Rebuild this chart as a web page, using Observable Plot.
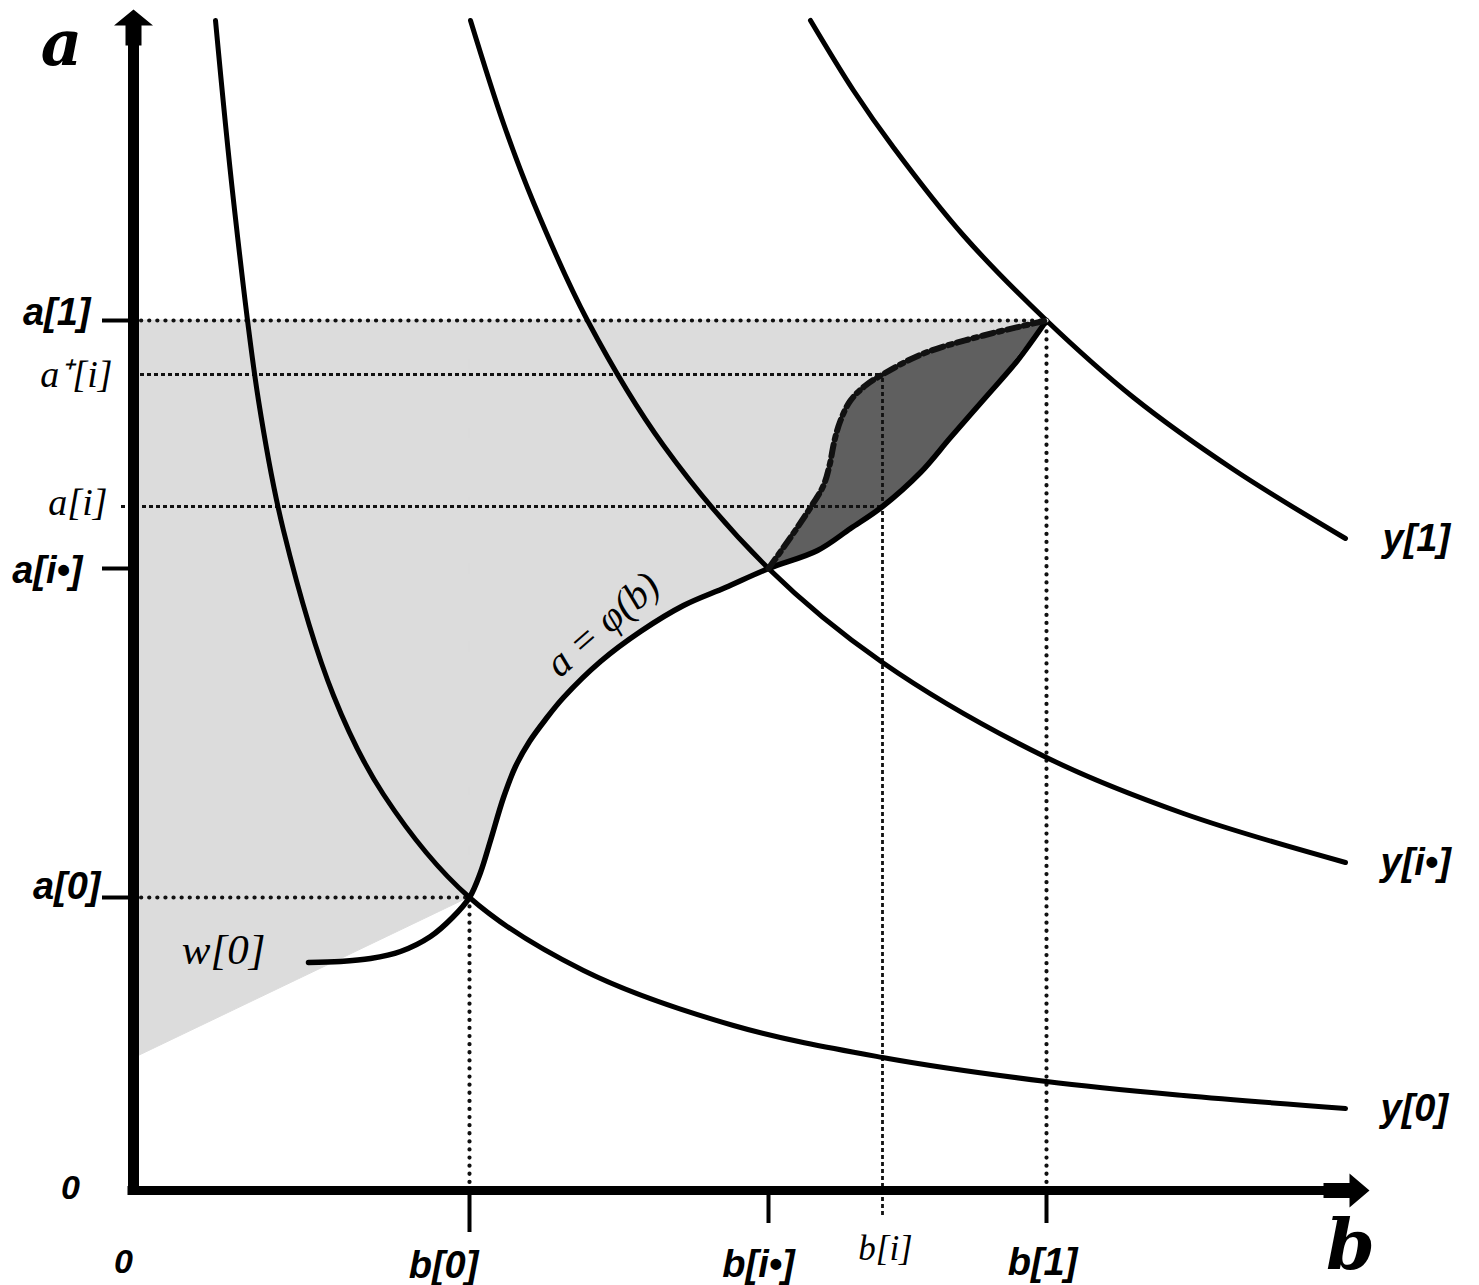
<!DOCTYPE html>
<html><head><meta charset="utf-8">
<script src="https://cdn.jsdelivr.net/npm/d3@7"></script>
<script src="https://cdn.jsdelivr.net/npm/@observablehq/plot@0.6"></script>
<style>html,body{margin:0;padding:0;background:#fff;overflow:hidden}svg{display:block}</style>
</head><body><div id="chart"></div>
<script>
// ---------- data (b = horizontal, a = vertical) ----------
// indifference curve y[0]
const y0B = [0.82, 1.0, 1.25, 1.5, 2.0, 2.5, 3.36, 4.5, 6.0, 7.49, 9.13, 10.5, 12.12];
const y0A = [11.7, 9.9, 7.9, 6.6, 4.95, 3.96, 2.93, 2.2, 1.65, 1.33, 1.09, 0.95, 0.82];
// indifference curve y[i*]
const yisB = [3.37, 3.7, 4.0, 4.54, 5.3, 6.35, 7.49, 9.13, 10.5, 12.12];
const yisA = [11.7, 10.67, 9.88, 8.7, 7.45, 6.22, 5.28, 4.33, 3.77, 3.28];
// indifference curve y[1]
const y1B = [6.77, 7.2, 7.6, 8.3, 9.13, 10.0, 11.0, 12.12];
const y1A = [11.7, 11.0, 10.43, 9.55, 8.7, 7.93, 7.21, 6.52];
// curve a = phi(b)
const phiB = [1.75, 2.07, 2.37, 2.67, 2.97, 3.19, 3.36, 3.47, 3.57, 3.70, 3.82, 3.96, 4.12, 4.30, 4.67, 5.07, 5.50, 5.92, 6.35, 6.84, 7.17, 7.49, 7.87, 8.17, 8.52, 8.84, 9.13];
const phiA = [2.28, 2.29, 2.32, 2.39, 2.54, 2.73, 2.93, 3.18, 3.50, 3.93, 4.24, 4.49, 4.71, 4.93, 5.29, 5.59, 5.85, 6.03, 6.22, 6.40, 6.62, 6.84, 7.18, 7.53, 7.93, 8.30, 8.70];
// upper (dash-dot) boundary of dark region and phi read at the same b
const darkB  = [6.35, 6.57, 6.77, 6.90, 6.96, 7.01, 7.07, 7.17, 7.32, 7.49, 7.90, 8.50, 9.13];
const darkHi = [6.22, 6.53, 6.83, 7.05, 7.25, 7.50, 7.70, 7.90, 8.05, 8.16, 8.37, 8.55, 8.70];
const darkLo = [6.22, 6.30, 6.37, 6.44, 6.48, 6.51, 6.55, 6.62, 6.72, 6.84, 7.21, 7.91, 8.70];
// lower straight edge of the light region (axis to b[0])
const wedgeB = [0, 3.36];
const wedgeA = [1.32, 2.93];
// tick values / labels
const bTickValues = [3.36, 6.35, 7.49, 9.13];
const bTickLabels = ["b[0]", "b[i•]", "b[i]", "b[1]"];
const aTickValues = [2.93, 6.22, 6.84, 8.16, 8.70];
const aTickLabels = ["a[0]", "a[i•]", "a[i]", "a⁺[i]", "a[1]"];
const curveLabels = ["y[0]", "y[i•]", "y[1]"];

// ---------- helpers ----------
const pts = (B, A) => B.map((b, i) => ({b, a: A[i]}));
const [b0, bis, bi, b1] = bTickValues;
const [a0, ais, ai, aplus, a1] = aTickValues;
const i0 = phiB.indexOf(b0);
const iLab = phiB.indexOf(4.67);
const darkData = darkB.map((b, i) => ({b, lo: darkLo[i], hi: darkHi[i]}));

const boldF = {fontFamily: "Liberation Sans, Arial, sans-serif", fontWeight: "bold", fontStyle: "italic", fontSize: 38, fill: "#000"};
const itF = {fontFamily: "Liberation Serif, serif", fontStyle: "italic", fontSize: 38, fill: "#000"};
const bigF = {fontFamily: "DejaVu Serif", fontWeight: "bold", fontStyle: "italic", fontSize: 64, fill: "#000"};
const roundDots = {stroke: "#111", strokeWidth: 4.2, strokeDasharray: "0.1,8", strokeLinecap: "round"};
const dashes = {stroke: "#111", strokeWidth: 2.8, strokeDasharray: "4,3"};
const lab = (x, y, text, dx, dy, f, extra = {}) =>
  Plot.text([0], {x: () => x, y: () => y, text: () => text, dx, dy, ...f, ...extra});

const arrowUp = {draw(c) { c.moveTo(0, 0); c.lineTo(19.5, 16); c.lineTo(8, 16); c.lineTo(8, 36); c.lineTo(-8, 36); c.lineTo(-8, 16); c.lineTo(-19.5, 16); c.closePath(); }};
const arrowRight = {draw(c) { c.moveTo(0, 0); c.lineTo(-20, 17); c.lineTo(-20, 7.5); c.lineTo(-46, 7.5); c.lineTo(-46, -7.5); c.lineTo(-20, -7.5); c.lineTo(-20, -17); c.closePath(); }};

const line = (B, A, w) => Plot.line(pts(B, A), {x: "b", y: "a", curve: "catmull-rom", stroke: "#000", strokeWidth: w, strokeLinecap: "round", strokeLinejoin: "round"});

const chart = Plot.plot({
  width: 1479, height: 1285,
  marginLeft: 133, marginRight: 116, marginTop: 0, marginBottom: 95,
  x: {domain: [0, 12.3], axis: null},
  y: {domain: [0, 11.9], axis: null},
  style: {background: "#fff", overflow: "visible"},
  marks: [
    // light region
    Plot.areaY(pts(wedgeB, wedgeA), {x: "b", y1: "a", y2: () => a1, fill: "#dcdcdc", stroke: "#dcdcdc", strokeWidth: 1}),
    Plot.areaY(pts(phiB.slice(i0), phiA.slice(i0)), {x: "b", y1: "a", y2: () => a1, curve: "catmull-rom", fill: "#dcdcdc", stroke: "#dcdcdc", strokeWidth: 1}),
    // dark region
    Plot.areaY(darkData, {x: "b", y1: "lo", y2: "hi", curve: "catmull-rom", fill: "#5f5f5f"}),
    // guide lines
    Plot.ruleY([a1], {x1: 0, x2: b1, ...roundDots}),
    Plot.ruleY([a0], {x1: 0, x2: b0, ...roundDots}),
    Plot.ruleY([aplus], {x1: 0, x2: bi, ...dashes}),
    Plot.ruleY([ai], {x1: -0.12, x2: bi, ...dashes}),
    Plot.ruleX([b0], {y1: 0, y2: a0, ...roundDots}),
    Plot.ruleX([b1], {y1: 0, y2: a1, ...roundDots}),
    Plot.ruleX([bi], {y1: -0.25, y2: aplus, ...dashes}),
    // curves
    line(y0B, y0A, 5),
    line(yisB, yisA, 5),
    line(y1B, y1A, 5),
    line(phiB, phiA, 5.5),
    Plot.line(pts(darkB, darkHi), {x: "b", y: "a", curve: "catmull-rom", stroke: "#f2f2f2", strokeWidth: 4}),
    Plot.line(pts(darkB, darkHi), {x: "b", y: "a", curve: "catmull-rom", stroke: "#111", strokeWidth: 6, strokeDasharray: "12,5,4,5"}),
    // axes
    Plot.ruleX([0], {y1: -0.03, y2: 11.46, stroke: "#000", strokeWidth: 11}),
    Plot.ruleY([0], {x1: -0.055, x2: 11.92, stroke: "#000", strokeWidth: 9}),
    Plot.dot([0], {x: () => 0, y: () => 11.81, symbol: arrowUp, fill: "#000", stroke: "none", r: 10}),
    Plot.dot([0], {x: () => 12.36, y: () => 0, symbol: arrowRight, fill: "#000", stroke: "none", r: 10}),
    // ticks
    Plot.ruleY([a0, ais, a1], {x1: -0.31, x2: 0, stroke: "#000", strokeWidth: 4}),
    Plot.ruleX([b0], {y1: 0, y2: -0.42, stroke: "#000", strokeWidth: 4}),
    Plot.ruleX([bis, b1], {y1: 0, y2: -0.33, stroke: "#000", strokeWidth: 4}),
    // axis labels
    lab(0, 11.9, "a", -72, 44, bigF),
    lab(12.3, 0, "b", -13, 56, {...bigF, fontSize: 70}),
    lab(0, 0, "0", -63, -2, {...boldF, fontSize: 34}),
    lab(0, 0, "0", -10, 72, {...boldF, fontSize: 34}),
    // a tick labels
    lab(0, a0, aTickLabels[0], -33, -11, boldF, {textAnchor: "end"}),
    lab(0, ais, aTickLabels[1], -51, 2, boldF, {textAnchor: "end"}),
    lab(0, ai, aTickLabels[2], -26, -4, itF, {textAnchor: "end"}),
    lab(0, aplus, aTickLabels[3], -21, 0, itF, {textAnchor: "end"}),
    lab(0, a1, aTickLabels[4], -43, -8, boldF, {textAnchor: "end"}),
    // b tick labels
    lab(b0, 0, bTickLabels[0], -26, 75, boldF),
    lab(bis, 0, bTickLabels[1], -10, 74, boldF),
    lab(bi, 0, bTickLabels[2], 3, 58, {...itF, fontSize: 35}),
    lab(b1, 0, bTickLabels[3], -4, 72, boldF),
    // curve labels
    lab(y0B[y0B.length - 1], y0A[y0A.length - 1], curveLabels[0], 35, 0, boldF, {textAnchor: "start"}),
    lab(yisB[yisB.length - 1], yisA[yisA.length - 1], curveLabels[1], 35, 0, boldF, {textAnchor: "start"}),
    lab(y1B[y1B.length - 1], y1A[y1A.length - 1], curveLabels[2], 37, 0, boldF, {textAnchor: "start"}),
    lab(phiB[0], phiA[0], "w[0]", -43, -12, {...itF, fontSize: 43}, {textAnchor: "end"}),
    lab(phiB[iLab], phiA[iLab], "a = φ(b)", 2, -37, {...itF, fontSize: 40}, {rotate: -41})
  ]
});
document.getElementById("chart").appendChild(chart);
</script>
</body></html>
